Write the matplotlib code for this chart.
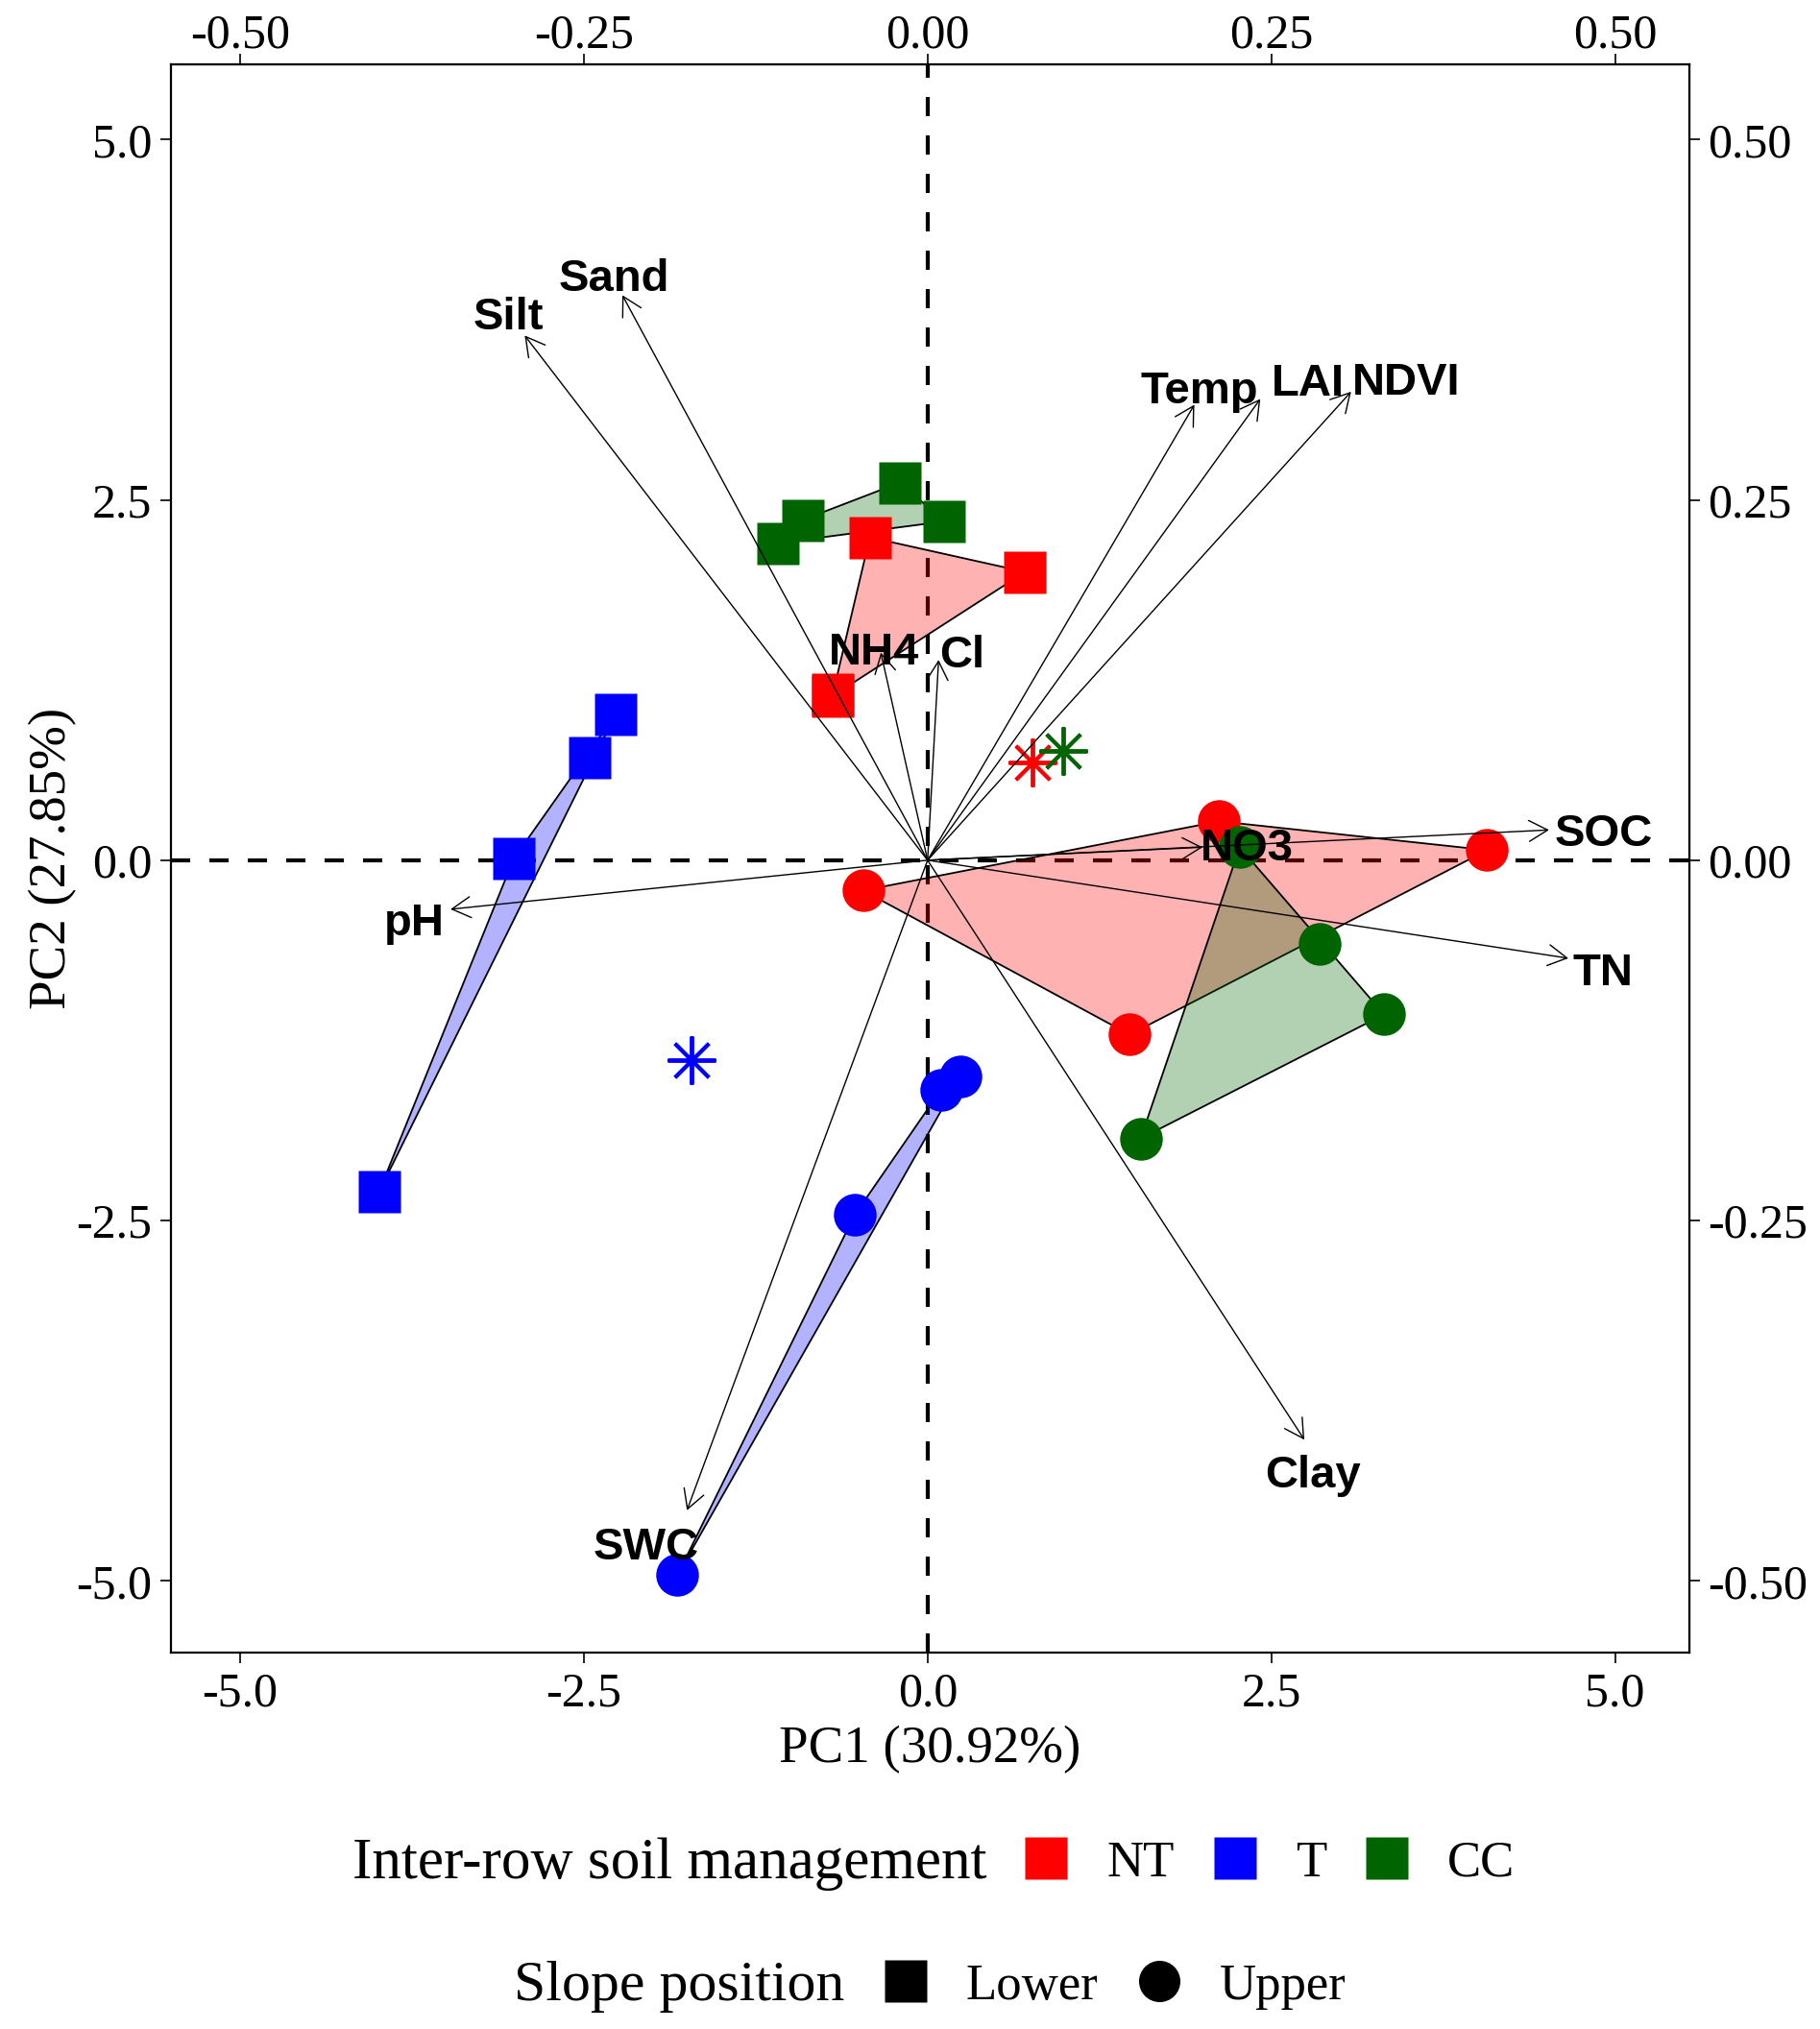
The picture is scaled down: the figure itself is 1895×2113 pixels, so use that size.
import matplotlib.pyplot as plt
import numpy as np
from matplotlib.lines import Line2D

plt.rcParams['font.family'] = 'Liberation Serif'
plt.rcParams['axes.unicode_minus'] = False

# PCA scores (PC1, PC2), per inter-row management and slope position
nt_lower_x = [-0.42, 0.71, -0.69, -0.69]
nt_lower_y = [2.24, 2.00, 1.15, 1.14]
nt_upper_x = [-0.47, 1.47, 2.12, 4.07]
nt_upper_y = [-0.21, -1.21, 0.27, 0.07]
t_lower_x = [-2.27, -2.46, -3.01, -3.99]
t_lower_y = [1.01, 0.71, 0.01, -2.30]
t_upper_x = [0.24, 0.10, -0.53, -1.82]
t_upper_y = [-1.50, -1.59, -2.46, -4.96]
cc_lower_x = [-1.09, -0.91, -0.20, 0.12]
cc_lower_y = [2.20, 2.36, 2.62, 2.35]
cc_upper_x = [2.27, 2.85, 3.32, 1.55]
cc_upper_y = [0.09, -0.58, -1.07, -1.93]

# variable loadings (arrow tips, in PC1/PC2 score units)
var_names = ['Silt', 'Sand', 'Temp', 'LAI', 'NDVI', 'NH4', 'Cl', 'NO3',
             'SOC', 'TN', 'Clay', 'SWC', 'pH']
var_x = [-2.93, -2.22, 1.94, 2.42, 3.08, -0.34, 0.08, 2.00,
         4.52, 4.66, 2.74, -1.75, -3.47]
var_y = [3.64, 3.92, 3.16, 3.20, 3.25, 1.44, 1.39, 0.09,
         0.21, -0.68, -4.02, -4.51, -0.34]
# label positions
lab_x = [-3.05, -2.28, 1.98, 2.77, 3.48, -0.39, 0.25, 2.32,
         4.92, 4.91, 2.80, -2.05, -3.73]
lab_y = [3.76, 4.03, 3.25, 3.30, 3.31, 1.44, 1.42, 0.08,
         0.18, -0.79, -4.27, -4.77, -0.44]

groups = ['NT', 'T', 'CC']
colors = {'NT': '#FF0000', 'T': '#0000FF', 'CC': '#006400'}
scores = {
    ('NT', 'Lower'): (nt_lower_x, nt_lower_y),
    ('NT', 'Upper'): (nt_upper_x, nt_upper_y),
    ('T', 'Lower'): (t_lower_x, t_lower_y),
    ('T', 'Upper'): (t_upper_x, t_upper_y),
    ('CC', 'Lower'): (cc_lower_x, cc_lower_y),
    ('CC', 'Upper'): (cc_upper_x, cc_upper_y),
}
shapes = {'Lower': 's', 'Upper': 'o'}


def hull(xs, ys):
    pts = sorted(set(zip(xs, ys)))

    def cross(o, a, b):
        return (a[0] - o[0]) * (b[1] - o[1]) - (a[1] - o[1]) * (b[0] - o[0])
    lower, upper = [], []
    for p in pts:
        while len(lower) >= 2 and cross(lower[-2], lower[-1], p) <= 0:
            lower.pop()
        lower.append(p)
    for p in reversed(pts):
        while len(upper) >= 2 and cross(upper[-2], upper[-1], p) <= 0:
            upper.pop()
        upper.append(p)
    return np.array(lower[:-1] + upper[:-1])


fig = plt.figure(figsize=(18.95, 21.13), dpi=100)
ax = fig.add_axes([0.0937, 0.1853, 0.8345, 0.7829])

ax.axvline(0, color='black', ls=(0, (4.8, 4.8)), lw=3.0, zorder=1)
ax.axhline(0, color='black', ls=(0, (4.8, 4.8)), lw=3.0, zorder=1)

# hulls
for (g, pos), (xs, ys) in scores.items():
    h = hull(xs, ys)
    ax.fill(h[:, 0], h[:, 1], facecolor=colors[g], alpha=0.3, zorder=2)
    ax.fill(h[:, 0], h[:, 1], facecolor='none', edgecolor='black', lw=1.3, zorder=2)

# points
for (g, pos), (xs, ys) in scores.items():
    ax.plot(xs, ys, ls='none', marker=shapes[pos], ms=32, color=colors[g],
            mec='none', zorder=3)

# group centroids
for g in groups:
    xs = scores[(g, 'Lower')][0] + scores[(g, 'Upper')][0]
    ys = scores[(g, 'Lower')][1] + scores[(g, 'Upper')][1]
    ax.plot(np.mean(xs), np.mean(ys), ls='none', marker=(8, 2, 0), ms=36,
            mew=2.8, color=colors[g], zorder=3)

# loadings
for name, vx, vy, lx, ly in zip(var_names, var_x, var_y, lab_x, lab_y):
    ax.annotate('', xy=(vx, vy), xytext=(0, 0),
                arrowprops=dict(arrowstyle='->,head_length=0.5,head_width=0.28',
                                lw=1.0, color='black', mutation_scale=28,
                                shrinkA=0, shrinkB=0),
                zorder=4)
    ax.text(lx, ly, name, ha='center', va='center', fontsize=34,
            fontweight='bold', family='Liberation Sans', zorder=5)

ax.set_xlim(-5.506, 5.54)
ax.set_ylim(-5.50, 5.52)
ax.set_xticks([-5, -2.5, 0, 2.5, 5])
ax.set_yticks([-5, -2.5, 0, 2.5, 5])
ax.xaxis.set_major_formatter(plt.FormatStrFormatter('%.1f'))
ax.yaxis.set_major_formatter(plt.FormatStrFormatter('%.1f'))
ax.tick_params(labelsize=36, length=8, width=1.2, pad=6)
for s in ax.spines.values():
    s.set_linewidth(1.6)

top = ax.secondary_xaxis('top', functions=(lambda v: v / 10, lambda v: v * 10))
right = ax.secondary_yaxis('right', functions=(lambda v: v / 10, lambda v: v * 10))
for sec in (top, right):
    sec.set_ticks([-0.5, -0.25, 0, 0.25, 0.5])
top.tick_params(labelsize=36, length=8, width=1.2, pad=-3)
right.tick_params(labelsize=36, length=8, width=1.2, pad=6)
top.xaxis.set_major_formatter(plt.FormatStrFormatter('%.2f'))
right.yaxis.set_major_formatter(plt.FormatStrFormatter('%.2f'))

ax.set_xlabel('PC1 (30.92%)', fontsize=39.5, labelpad=7)
ax.set_ylabel('PC2 (27.85%)', fontsize=39.5, labelpad=-1)

# legends: title on the left, keys to the right
leg_y1 = 0.0815
leg_y2 = 0.0209
fig.text(0.1937, leg_y1, 'Inter-row soil management', fontsize=44,
         ha='left', va='center')
h1 = [Line2D([], [], ls='none', marker='s', ms=31, color=colors[g], mec='none')
      for g in groups]
fig.legend(h1, groups, loc='center left', bbox_to_anchor=(0.561, leg_y1),
           ncol=3, frameon=False, fontsize=38, handlelength=1.0,
           handletextpad=0.69, columnspacing=0.7, borderpad=0, borderaxespad=0)

fig.text(0.2823, leg_y2, 'Slope position', fontsize=43, ha='left', va='center')
h2 = [Line2D([], [], ls='none', marker=shapes[p], ms=31, color='black', mec='none')
      for p in ['Lower', 'Upper']]
fig.legend(h2, ['Lower', 'Upper'], loc='center left',
           bbox_to_anchor=(0.4838, leg_y2), ncol=2, frameon=False, fontsize=38,
           handlelength=1.0, handletextpad=0.69, columnspacing=0.7,
           borderpad=0, borderaxespad=0)

fig.savefig('out.png', dpi=100)
